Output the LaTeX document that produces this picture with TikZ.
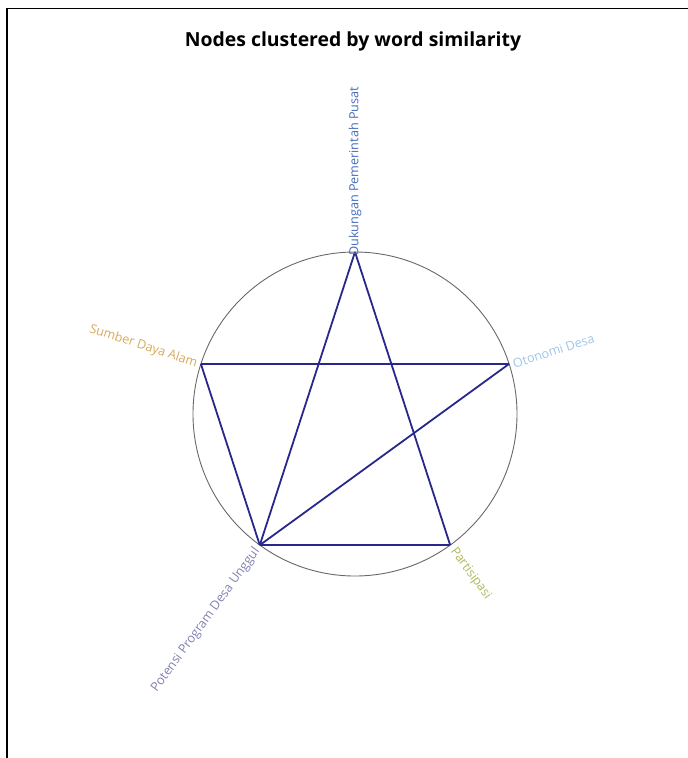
\documentclass[tikz,border=0pt]{standalone}
\usepackage{fontspec}
\setmainfont{Open Sans}
\definecolor{edgec}{RGB}{40,40,140}
\definecolor{ringc}{RGB}{105,105,105}
\definecolor{cD}{RGB}{70,110,190}
\definecolor{cS}{RGB}{215,170,90}
\definecolor{cO}{RGB}{160,198,235}
\definecolor{cPo}{RGB}{130,130,180}
\definecolor{cPa}{RGB}{175,185,95}
\begin{document}
\begin{tikzpicture}[x=1pt,y=-1pt,
  pt/.style={coordinate},
  edge/.style={draw=edgec,line width=1.8pt},
  ring/.style={draw=ringc,line width=0.9pt},
  lab/.style={inner sep=0pt,font=\fontsize{12.6}{15}\selectfont},
  frame/.style={draw=black,line width=1.6pt}]
\useasboundingbox (0,0) rectangle (688,758);
\fill[white] (0,0) rectangle (688,758);
\coordinate (tl) at (7,8.5);
\coordinate (tr) at (688,8.5);
\coordinate (bl) at (7,758);
\draw[frame] (tr) -- (tl) -- (bl);
\node[font=\bfseries\fontsize{19.4}{23}\selectfont] (title) at (353,41) {Nodes clustered by word similarity};
\coordinate (c) at (355,414);
\draw[ring] (c) circle (162);
\node[pt] (d) at (355,252) {};
\node[pt] (o) at (509.1,363.9) {};
\node[pt] (s) at (200.9,363.9) {};
\node[pt] (pa) at (450.2,545.1) {};
\node[pt] (po) at (259.8,545.1) {};
\draw[edge] (d) -- (po);
\draw[edge] (d) -- (pa);
\draw[edge] (s) -- (o);
\draw[edge] (s) -- (po);
\draw[edge] (po) -- (o);
\draw[edge] (po) -- (pa);
\node[lab,text=cD,rotate=90,anchor=west] (ld) at ([yshift=-4]d) {Dukungan Pemerintah Pusat};
\node[lab,text=cO,rotate=18,anchor=west] (lo) at ([xshift=4]o) {Otonomi Desa};
\node[lab,text=cS,rotate=-18,anchor=east] (ls) at ([xshift=-4]s) {Sumber Daya Alam};
\node[lab,text=cPa,rotate=-54,anchor=west] (lpa) at ([shift={(2.5,4)}]pa) {Partisipasi};
\node[lab,text=cPo,rotate=54,anchor=east] (lpo) at ([shift={(-2.5,4)}]po) {Potensi Program Desa Unggul};
\end{tikzpicture}
\end{document}
